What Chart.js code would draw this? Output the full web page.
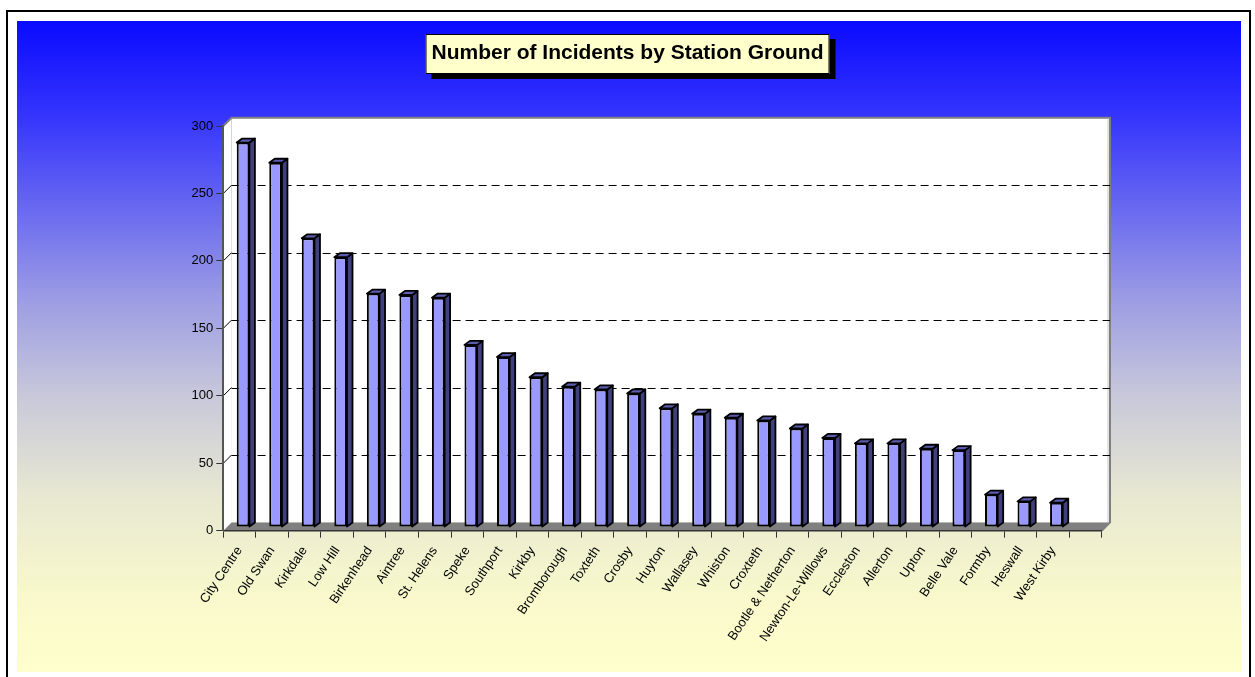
<!DOCTYPE html>
<html><head><meta charset="utf-8">
<script src="https://cdn.jsdelivr.net/npm/chart.js@4.4.1/dist/chart.umd.min.js"></script>
<style>html,body{margin:0;padding:0;background:#fff;}#wrap{width:1255px;height:677px;position:relative;}</style>
</head><body><div id="wrap"><canvas id="c" width="1255" height="677"></canvas></div>
<script>
const categories = ['City Centre','Old Swan','Kirkdale','Low Hill','Birkenhead','Aintree','St. Helens','Speke','Southport','Kirkby','Bromborough','Toxteth','Crosby','Huyton','Wallasey','Whiston','Croxteth','Bootle & Netherton','Newton-Le-Willows','Eccleston','Allerton','Upton','Belle Vale','Formby','Heswall','West Kirby',''];
const incidents = [285,270,214,200,173,172,170,135,126,111,104,102,99,88,84,81,79,73,66,62,62,58,57,24,19,18,null];
const yMin = 0, yMax = 300, yStep = 50;
const chartTitle = 'Number of Incidents by Station Ground';

const FONT = '"Liberation Sans", Arial, sans-serif';
const DX = 8.3, DY = 8.3;     // wall depth
const BDX = 3.5, BDY = 3.7;   // bar front-face offset
const FDX = 5.5, FDY = 4;     // bar depth faces

const scene3d = {
  id: 'scene3d',
  beforeDraw(chart) {
    const ctx = chart.ctx, ca = chart.chartArea;
    ctx.save();
    ctx.fillStyle = '#fff';
    ctx.fillRect(0, 0, chart.width, chart.height);
    const g = ctx.createLinearGradient(0, 21, 0, 672);
    g.addColorStop(0.00, '#0a0aff');
    g.addColorStop(0.15, '#3636fd');
    g.addColorStop(0.27, '#6262f2');
    g.addColorStop(0.43, '#9d9de4');
    g.addColorStop(0.58, '#c9c9da');
    g.addColorStop(0.73, '#e8e8d2');
    g.addColorStop(0.88, '#f8f8cc');
    g.addColorStop(1.00, '#ffffcc');
    ctx.fillStyle = g;
    ctx.fillRect(17, 21, 1224, 651);
    ctx.strokeStyle = '#000';
    ctx.lineWidth = 2;
    ctx.strokeRect(7, 11, 1243, 720);

    // title box
    ctx.font = 'bold 21px ' + FONT;
    const tw = ctx.measureText(chartTitle).width;
    const cx = (chart.titleBlock.left + chart.titleBlock.right) / 2;
    const bx = cx - tw / 2 - 6, by = 34, bw = tw + 12, bh = 40;
    ctx.fillStyle = '#000';
    ctx.fillRect(bx + 6, by + 5, bw, bh);
    ctx.fillStyle = '#ffffcc';
    ctx.fillRect(bx, by, bw, bh);
    ctx.lineWidth = 1;
    ctx.strokeRect(bx + 0.5, by + 0.5, bw - 1, bh - 1);

    const l = ca.left, r = ca.right, t = ca.top, b = ca.bottom;
    // back wall
    ctx.fillStyle = '#fff';
    ctx.fillRect(l + DX, t - DY, r - l, b - t);
    // left wall
    ctx.beginPath();
    ctx.moveTo(l, t); ctx.lineTo(l + DX, t - DY); ctx.lineTo(l + DX, b - DY); ctx.lineTo(l, b); ctx.closePath();
    ctx.fill();
    // floor
    ctx.fillStyle = '#808080';
    ctx.beginPath();
    ctx.moveTo(l, b); ctx.lineTo(l + DX, b - DY); ctx.lineTo(r + DX, b - DY); ctx.lineTo(r, b); ctx.closePath();
    ctx.fill();
    // wall edges
    ctx.strokeStyle = '#808080';
    ctx.lineWidth = 2;
    ctx.beginPath();
    ctx.moveTo(l, t); ctx.lineTo(l + DX, t - DY); ctx.lineTo(r + DX, t - DY); ctx.lineTo(r + DX, b - DY); ctx.lineTo(r, b);
    ctx.stroke();
    ctx.strokeStyle = '#c8c8c8';
    ctx.lineWidth = 1;
    ctx.beginPath();
    ctx.moveTo(r + DX - 2, t - DY + 1); ctx.lineTo(r + DX - 2, b - DY);
    ctx.stroke();

    // gridlines on back wall and left wall
    const ys = chart.scales.y;
    for (let v = yMin + yStep; v < yMax; v += yStep) {
      const y = ys.getPixelForValue(v);
      ctx.strokeStyle = '#000';
      ctx.lineWidth = 1;
      ctx.setLineDash([8, 5]);
      ctx.beginPath();
      ctx.moveTo(l + DX, Math.round(y - DY) + 0.5);
      ctx.lineTo(r + DX, Math.round(y - DY) + 0.5);
      ctx.stroke();
      ctx.setLineDash([]);
      ctx.beginPath();
      ctx.moveTo(l, y); ctx.lineTo(l + DX, y - DY);
      ctx.stroke();
    }
    ctx.restore();
  },
  beforeDatasetsDraw(chart) {
    chart.ctx.save();
    chart.ctx.translate(BDX, -BDY);
  },
  afterDatasetsDraw(chart) {
    const ctx = chart.ctx;
    const meta = chart.getDatasetMeta(0);
    ctx.lineWidth = 1.8;
    ctx.strokeStyle = '#000';
    ctx.lineJoin = 'round';
    meta.data.forEach((el, i) => {
      if (incidents[i] == null) return;
      const p = el.getProps(['x', 'y', 'base', 'width'], true);
      const x0 = p.x - p.width / 2, x1 = p.x + p.width / 2, yt = p.y, yb = p.base;
      // side face
      ctx.fillStyle = '#40407e';
      ctx.beginPath();
      ctx.moveTo(x1, yt); ctx.lineTo(x1 + FDX, yt - FDY); ctx.lineTo(x1 + FDX, yb - FDY); ctx.lineTo(x1, yb); ctx.closePath();
      ctx.fill(); ctx.stroke();
      // top face
      ctx.fillStyle = '#5c5cae';
      ctx.beginPath();
      ctx.moveTo(x0, yt); ctx.lineTo(x0 + FDX, yt - FDY); ctx.lineTo(x1 + FDX, yt - FDY); ctx.lineTo(x1, yt); ctx.closePath();
      ctx.fill(); ctx.stroke();
    });
    ctx.restore();
  }
};

new Chart(document.getElementById('c'), {
  type: 'bar',
  data: {
    labels: categories,
    datasets: [{
      data: incidents,
      backgroundColor: '#9999ff',
      borderColor: '#000',
      borderWidth: 2,
      borderSkipped: false,
      barPercentage: 0.39,
      categoryPercentage: 1.0
    }]
  },
  options: {
    responsive: false,
    animation: false,
    devicePixelRatio: 1,
    layout: { padding: 0 },
    plugins: {
      legend: { display: false },
      tooltip: { enabled: false },
      title: {
        display: true,
        text: chartTitle,
        color: '#000',
        font: { family: FONT, size: 21, weight: 'bold', lineHeight: 1.2 },
        padding: { top: 40.4, bottom: 60.4 }
      }
    },
    scales: {
      x: {
        offset: true,
        grid: { display: true, drawOnChartArea: false, drawTicks: true, tickLength: 7, color: '#333', offset: true },
        border: { display: true, color: '#333', width: 1.5 },
        ticks: { autoSkip: false, minRotation: 56, maxRotation: 56, padding: 6, color: '#000', font: { family: FONT, size: 13 } },
        afterFit: s => { s.height = 677 - 530.7; }
      },
      y: {
        min: yMin, max: yMax,
        ticks: { stepSize: yStep, padding: 3, color: '#000', font: { family: FONT, size: 13 } },
        grid: { display: true, drawOnChartArea: false, drawTicks: true, tickLength: 7, color: '#333' },
        border: { display: true, color: '#555', width: 2 },
        afterFit: s => { s.width = 223.3; }
      },
      yRight: {
        type: 'linear', position: 'right', display: true,
        grid: { display: false }, border: { display: false }, ticks: { display: false },
        afterFit: s => { s.width = 1255 - 1101.7; }
      }
    }
  },
  plugins: [scene3d]
});
</script>
</body></html>
